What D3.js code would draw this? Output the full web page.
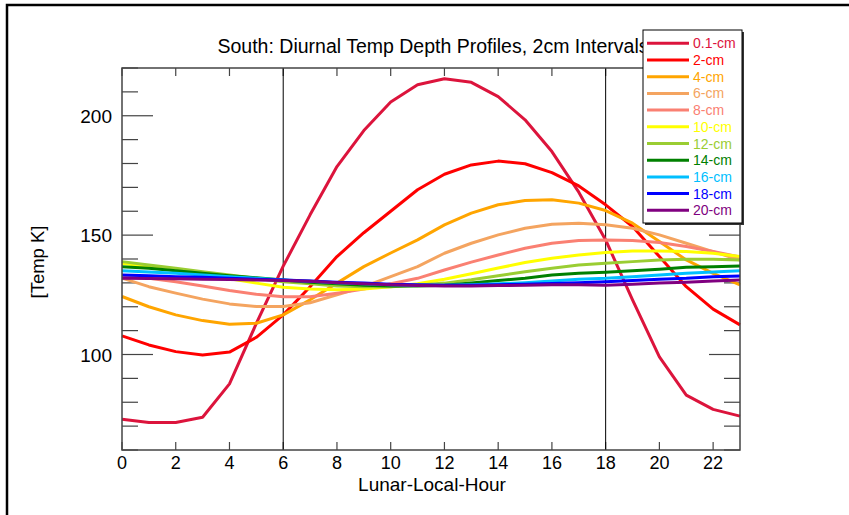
<!DOCTYPE html>
<html>
<head>
<meta charset="utf-8">
<script src="https://cdn.jsdelivr.net/npm/d3@7"></script>
<style>
  body { margin: 0; background: #fff; }
  svg { display: block; font-family: "Liberation Sans", Arial, sans-serif; }
</style>
</head>
<body>
<svg id="chart" width="849" height="515"></svg>
<script>
// Lunar local hour of each sample
const hours = d3.range(0, 24)

// Depth labels and their colours
const depths = ['0.1-cm', '2-cm', '4-cm', '6-cm', '8-cm', '10-cm', '12-cm', '14-cm', '16-cm', '18-cm', '20-cm']
const colors = ['#dc143c', '#ff0000', '#ffa500', '#f4a460', '#fa8072', '#ffff00', '#9acd32', '#008000', '#00bfff', '#0000ff', '#800080']

// Temperatures [K], one row per depth
const t01 = [72.9, 71.5, 71.5, 73.7, 87.7, 113, 137, 158.5, 178.7, 193.8, 205.8, 213, 215.5, 214, 208, 198.3, 185, 168, 148, 122.9, 99, 83, 77, 74.2]
const t02 = [107.8, 104, 101.2, 99.8, 101, 107.2, 116.6, 128.4, 141, 151, 160, 169, 175.5, 179.4, 181, 179.9, 176.2, 170.6, 162.7, 153.6, 141, 128.4, 119, 112.4]
const t04 = [124.3, 120, 116.6, 114.2, 112.7, 113.1, 116.6, 122.9, 129.9, 136.8, 142.5, 148, 154.3, 159.2, 162.7, 164.5, 164.8, 163.4, 160.3, 155, 147.3, 139.6, 134, 129.2]
const t06 = [132, 128.4, 125.7, 123.2, 121.2, 120.1, 120.1, 121.7, 125, 128.4, 132.6, 136.8, 142.4, 146.6, 150.1, 152.9, 154.6, 155, 154.3, 152.9, 150.1, 146.6, 143.1, 139.6]
const t08 = [132.6, 131.9, 130.5, 128.7, 126.8, 125.2, 124.2, 124.2, 125.7, 127.4, 129.6, 131.9, 135.4, 138.7, 141.7, 144.5, 146.6, 147.7, 148, 147.7, 146.9, 145.2, 143.1, 140.8]
const t10 = [138.2, 136.8, 135.1, 133.3, 131.7, 129.9, 128.2, 127.4, 127.1, 127.4, 128.4, 129.6, 131.5, 133.8, 136.2, 138.5, 140.3, 141.7, 142.7, 143.4, 143.4, 143.1, 142.4, 141]
const t12 = [138.9, 137.5, 136.1, 134.7, 133.3, 131.9, 130.5, 129.6, 128.7, 128.4, 128.4, 129, 129.9, 131.3, 133, 134.7, 136.1, 137.5, 138.2, 138.9, 139.6, 139.9, 139.9, 139.6]
const t14 = [136.8, 136.1, 135.1, 134, 133, 132.1, 131.2, 130.3, 129.6, 129, 128.7, 128.7, 129, 129.9, 131, 131.9, 133.3, 134, 134.5, 135.1, 135.7, 136.5, 136.8, 137.1]
const t16 = [135.1, 134.6, 134, 133.3, 132.6, 131.9, 131.2, 130.7, 130.1, 129.6, 129.2, 129, 129, 129.2, 129.6, 130.1, 130.8, 131.5, 131.9, 132.6, 133.3, 134, 134.6, 135.1]
const t18 = [133.3, 133, 132.6, 132.4, 131.9, 131.5, 131.2, 130.8, 130.3, 129.9, 129.4, 129.2, 129, 129, 129.2, 129.4, 129.7, 130.1, 130.5, 131, 131.5, 131.9, 132.6, 132.9]
const t20 = [131.9, 131.8, 131.7, 131.5, 131.4, 131.2, 131, 130.7, 130.1, 129.6, 129.2, 128.9, 128.7, 128.7, 128.9, 129, 129.2, 129.2, 129, 129.4, 129.9, 130.3, 130.8, 131.2]
const series = [t01, t02, t04, t06, t08, t10, t12, t14, t16, t18, t20]

// Axis ticks and the sunrise / sunset marker hours
const xTicks = d3.range(0, 23, 2)
const yMajor = [100, 150, 200]
const yMinor = d3.range(60, 221, 10)
const markerHours = [6, 18]

const svg = d3.select('#chart')
const plotLeft = 122, plotRight = 740, plotTop = 68, plotBottom = 450

const x = d3.scaleLinear().domain([0, 23]).range([plotLeft, plotRight])
const y = d3.scaleLinear().domain([60, 220]).range([plotBottom, plotTop])

// outer page frame
svg.append('rect')
  .attr('x', 7).attr('y', 5).attr('width', 860).attr('height', 530)
  .attr('fill', 'none').attr('stroke', '#000').attr('stroke-width', 2.5)

// title (runs behind the legend box)
svg.append('text')
  .attr('x', 433).attr('y', 53)
  .attr('text-anchor', 'middle')
  .style('font-size', '19.5px')
  .text('South: Diurnal Temp Depth Profiles, 2cm Intervals')

// ticks on all four sides
const tickColor = '#444'
const g = svg.append('g').attr('stroke', tickColor).attr('stroke-width', 1.2)
yMinor.forEach(v => {
  const len = yMajor.includes(v) ? 31 : 16
  g.append('line').attr('x1', plotLeft).attr('x2', plotLeft + len).attr('y1', y(v)).attr('y2', y(v))
  g.append('line').attr('x1', plotRight).attr('x2', plotRight - len).attr('y1', y(v)).attr('y2', y(v))
})
xTicks.forEach(h => {
  g.append('line').attr('x1', x(h)).attr('x2', x(h)).attr('y1', plotBottom).attr('y2', plotBottom - 8)
  g.append('line').attr('x1', x(h)).attr('x2', x(h)).attr('y1', plotTop).attr('y2', plotTop + 8)
})

// sunrise / sunset lines
svg.selectAll('line.marker').data(markerHours).enter().append('line')
  .attr('class', 'marker')
  .attr('x1', d => x(d)).attr('x2', d => x(d))
  .attr('y1', plotTop).attr('y2', plotBottom)
  .attr('stroke', '#000').attr('stroke-width', 1)

// the profiles
const line = d3.line().x((d, i) => x(hours[i])).y(d => y(d))
svg.append('g').selectAll('path').data(series).enter().append('path')
  .attr('d', d => line(d))
  .attr('fill', 'none')
  .attr('stroke', (d, i) => colors[i])
  .attr('stroke-width', 3)
  .attr('stroke-linejoin', 'round')

// frame of the plot
svg.append('rect')
  .attr('x', plotLeft).attr('y', plotTop).attr('width', plotRight - plotLeft).attr('height', plotBottom - plotTop)
  .attr('fill', 'none').attr('stroke', tickColor).attr('stroke-width', 1.5)

// tick labels
svg.append('g').selectAll('text').data(xTicks).enter().append('text')
  .attr('x', d => x(d)).attr('y', 469)
  .attr('text-anchor', 'middle')
  .style('font-size', '18px')
  .text(d => d)
svg.append('g').selectAll('text').data(yMajor).enter().append('text')
  .attr('x', 112).attr('y', d => y(d) + 7)
  .attr('text-anchor', 'end')
  .style('font-size', '19px')
  .text(d => d)

// axis titles
svg.append('text')
  .attr('x', 432).attr('y', 491)
  .attr('text-anchor', 'middle')
  .style('font-size', '19px')
  .text('Lunar-Local-Hour')
svg.append('text')
  .attr('transform', 'translate(44,262) rotate(-90)')
  .attr('text-anchor', 'middle')
  .style('font-size', '18.5px')
  .text('[Temp K]')

// legend
const lg = svg.append('g')
lg.append('rect')
  .attr('x', 645).attr('y', 32).attr('width', 99).attr('height', 193)
  .attr('fill', '#333')
lg.append('rect')
  .attr('x', 643).attr('y', 30).attr('width', 99).attr('height', 193)
  .attr('fill', '#fff').attr('stroke', '#000').attr('stroke-width', 1)
const row = lg.selectAll('g.row').data(depths).enter().append('g')
  .attr('class', 'row')
  .attr('transform', (d, i) => `translate(0,${43.3 + i * 16.7})`)
row.append('line')
  .attr('x1', 647).attr('x2', 689)
  .attr('stroke', (d, i) => colors[i]).attr('stroke-width', 3)
row.append('text')
  .attr('x', 693).attr('y', 5)
  .style('font-size', '14px')
  .attr('fill', (d, i) => colors[i])
  .text(d => d)
</script>
</body>
</html>
